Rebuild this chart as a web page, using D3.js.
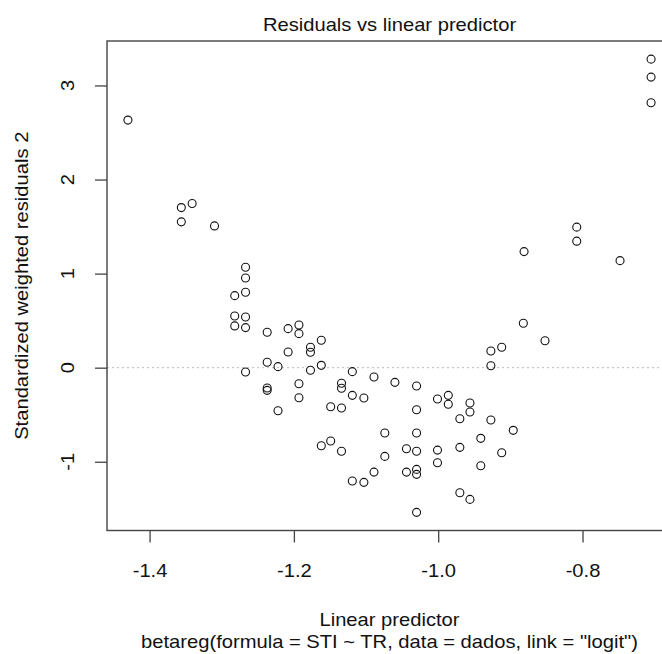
<!DOCTYPE html>
<html>
<head>
<meta charset="utf-8">
<script src="https://cdn.jsdelivr.net/npm/d3@7"></script>
<style>
html,body{margin:0;padding:0;background:#fff;}
text{font-family:"Liberation Sans",Arial,sans-serif;fill:#111;}
</style>
</head>
<body>
<svg id="chart" width="662" height="654"></svg>
<script>
const linearPredictor = [
-1.430,-1.356,-1.341,-1.356,-1.310,-1.267,-1.267,-1.267,-1.282,-1.282,
-1.267,-1.282,-1.267,-1.237,-1.208,-1.208,-1.237,-1.222,-1.267,-1.237,
-1.237,-1.222,-1.193,-1.193,-1.177,-1.177,-1.162,-1.177,-1.162,-1.193,
-1.193,-1.119,-1.134,-1.134,-1.089,-1.060,-1.030,-1.119,-1.103,-1.149,
-1.134,-1.030,-1.001,-0.986,-0.986,-0.956,-0.956,-0.970,-1.074,-1.030,
-1.162,-1.149,-1.134,-1.074,-1.044,-1.030,-1.001,-0.970,-1.001,-1.089,
-1.044,-1.030,-1.030,-1.119,-1.103,-0.970,-0.956,-1.030,-0.705,-0.705,
-0.705,-0.808,-0.808,-0.881,-0.748,-0.882,-0.852,-0.927,-0.912,-0.927,
-0.927,-0.896,-0.941,-0.912,-0.941
];
const residuals = [
2.632,1.702,1.745,1.550,1.507,1.068,0.954,0.802,0.766,0.550,
0.539,0.444,0.426,0.376,0.415,0.167,0.057,0.011,-0.046,-0.216,
-0.241,-0.457,0.454,0.362,0.217,0.164,0.291,-0.028,0.025,-0.170,
-0.319,-0.042,-0.166,-0.219,-0.099,-0.156,-0.195,-0.294,-0.322,-0.415,
-0.429,-0.447,-0.333,-0.294,-0.389,-0.376,-0.471,-0.543,-0.695,-0.695,
-0.830,-0.780,-0.889,-0.943,-0.861,-0.889,-0.876,-0.847,-1.010,-1.110,
-1.110,-1.081,-1.134,-1.205,-1.219,-1.330,-1.400,-1.538,3.280,3.089,
2.816,1.494,1.345,1.234,1.138,0.472,0.287,0.178,0.217,0.021,
-0.556,-0.666,-0.751,-0.904,-1.043
];
const xTicks = [-1.4,-1.2,-1.0,-0.8];
const yTicks = [-1,0,1,2,3];
const titleText = "Residuals vs linear predictor";
const xLabel = "Linear predictor";
const yLabel = "Standardized weighted residuals 2";
const subText = 'betareg(formula = STI ~ TR, data = dados, link = "logit")';

const svg = d3.select("#chart");
const L = 107, R = 672, T = 41, B = 530.5;
const SX = 1.12; // horizontal stretch of glyphs seen in the reference

function rExt(arr){ const e=d3.extent(arr); const d=(e[1]-e[0])*0.04; return [e[0]-d,e[1]+d]; }
const x = d3.scaleLinear().domain(rExt(linearPredictor)).range([L,R]);
const y = d3.scaleLinear().domain(rExt(residuals)).range([B,T]);
const hy = f => v => f(v).replace("\u2212","-");

function addText(px, py, rot, str){
  svg.append("text")
    .attr("transform",`translate(${px},${py}) rotate(${rot}) scale(${SX},1)`)
    .attr("text-anchor","middle")
    .style("font-size","18px")
    .text(str);
}

// zero reference line
svg.append("line")
  .attr("x1",L).attr("x2",R).attr("y1",y(0)).attr("y2",y(0))
  .attr("stroke","#bbb").attr("stroke-width",1).attr("stroke-dasharray","2,3");

// points
svg.append("g").selectAll("circle")
  .data(linearPredictor.map((v,i)=>[v,residuals[i]]))
  .join("circle")
  .attr("cx",d=>x(d[0])).attr("cy",d=>y(d[1])).attr("r",4)
  .attr("fill","none").attr("stroke","#111").attr("stroke-width",1.1);

// box
svg.append("rect").attr("x",L).attr("y",T).attr("width",R-L).attr("height",B-T)
  .attr("fill","none").attr("stroke","#444").attr("stroke-width",1.4);

// x axis
const xa = svg.append("g").attr("transform",`translate(0,${B})`)
  .call(d3.axisBottom(x).tickValues(xTicks).tickSize(12).tickFormat(hy(d3.format(".1f"))).tickPadding(22));
xa.select(".domain").remove();
xa.selectAll("line").attr("stroke","#444").attr("stroke-width",1.3);
xa.selectAll("text").style("font-size","18px").attr("fill","#111")
  .style("font-family",'"Liberation Sans",Arial,sans-serif')
  .attr("transform",`scale(${SX},1)`);

// y axis
const ya = svg.append("g").attr("transform",`translate(${L},0)`)
  .call(d3.axisLeft(y).tickValues(yTicks).tickSize(12).tickFormat(hy(d3.format("d"))));
ya.select(".domain").remove();
ya.selectAll("line").attr("stroke","#444").attr("stroke-width",1.3);
ya.selectAll("text").remove();
yTicks.forEach(t => addText(74, y(t), -90, hy(d3.format("d"))(t)));

// titles
addText((L+R)/2, 31, 0, titleText);
addText((L+R)/2, 626, 0, xLabel);
addText((L+R)/2, 648, 0, subText);
addText(28, (T+B)/2, -90, yLabel);
</script>
</body>
</html>
